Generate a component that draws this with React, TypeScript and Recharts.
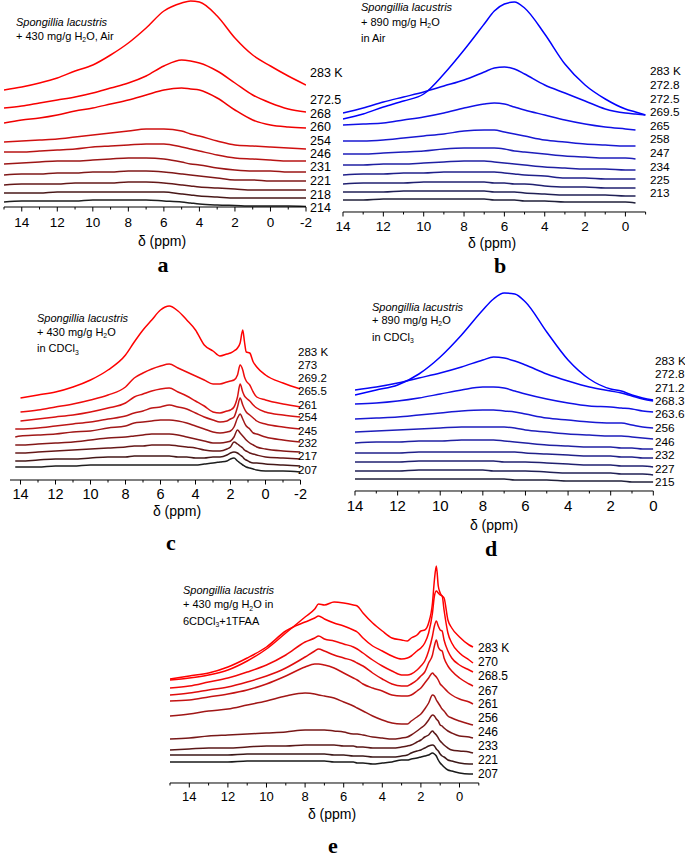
import { LineChart, Line, XAxis, YAxis } from "recharts";
import type { ReactNode } from "react";

// chemical shift grids (ppm) and spectra heights above each panel's baseline
const aPpm = [15, 14, 13, 12, 11, 10, 9, 8, 7, 6, 5, 4.5, 4, 3, 2, 1, 0, -1, -2];
const aTemps = ["283 K", "272.5", "268", "260", "254", "246", "231", "221", "218", "214"];
const aCurves = [
  [117, 120, 124, 129, 136, 142, 152, 164, 179, 196, 204, 206, 205, 191, 169, 152, 141, 131, 122],
  [99, 101, 104, 107, 110, 114, 119, 124, 131, 141, 147, 146, 144, 136, 124, 112, 104, 98, 95],
  [84, 87, 89, 92, 96, 99, 103, 107, 112, 117, 119, 118, 117, 109, 97, 87, 82, 80, 79],
  [65, 66, 67, 68, 70, 72, 74, 76, 78, 78, 76, 73, 71, 66, 62, 61, 60, 59, 58],
  [55, 55, 56, 57, 58, 60, 61, 62, 63, 63, 60, 58, 56, 52, 49, 48, 47, 46, 46],
  [43, 44, 45, 46, 46, 47, 48, 49, 49, 48, 45, 43, 42, 39, 37, 36, 36, 35, 35],
  [32, 33, 33, 34, 34, 35, 35, 36, 36, 35, 33, 32, 31, 29, 27, 27, 26, 26, 26],
  [22, 23, 23, 23, 24, 24, 24, 25, 25, 24, 22, 21, 20, 19, 18, 17, 17, 17, 17],
  [14, 14, 14, 15, 15, 15, 15, 15, 15, 15, 13, 12, 11, 10, 9, 9, 9, 9, 9],
  [5, 6, 6, 6, 6, 7, 7, 7, 7, 6, 5, 4, 3, 2, 1.5, 1, 1, 1, 0.5],
];

const bPpm = [14, 13, 12, 11, 10, 9, 8, 7, 6.5, 6, 5.5, 5, 4, 3, 2, 1, 0, -0.5, -1];
const bTemps = ["283 K", "272.8", "272.5", "269.5", "265", "258", "247", "234", "225", "213"];
const bCurves = [
  [93, 98, 105, 111, 118, 138, 162, 188, 201, 208, 210, 204, 178, 148, 127, 113, 103, 100, 97],
  [99, 104, 110, 115, 120, 126, 132, 140, 144, 145, 143, 138, 127, 119, 111, 103, 99, 98, 97],
  [87, 88, 89, 92, 95, 99, 104, 108, 109, 108, 105, 102, 97, 92, 88, 85, 83, 82, null],
  [71, 71, 72, 74, 76, 78, 81, 82, 82, 80, 78, 76, 72, 70, 68, 67, 66, 66, null],
  [58, 58, 59, 60, 61, 63, 64, 64, 64, 63, 61, 60, 58, 56, 55, 54, 54, 53, null],
  [47, 47, 48, 48, 49, 50, 51, 51, 50, 49, 48, 47, 45, 44, 43, 43, 42, 42, null],
  [37, 38, 38, 39, 39, 40, 40, 40, 40, 39, 38, 37, 36, 34, 34, 33, 33, 33, null],
  [28, 29, 29, 29, 30, 30, 30, 30, 29, 29, 28, 28, 26, 25, 25, 24, 24, 24, null],
  [20, 20, 20, 21, 21, 21, 21, 21, 20, 20, 20, 19, 18, 17, 17, 17, 16, 16, null],
  [12, 12, 13, 13, 13, 13, 13, 13, 12, 12, 12, 11, 11, 10, 10, 10, 10, 9, null],
];

const cPpm = [14.3, 14, 13, 12, 11, 10, 9, 8, 7.5, 7, 6.5, 6, 5.5, 5, 4.5, 4, 3.5, 3, 2.6, 2.2, 2, 1.8, 1.6, 1.45, 1.3, 1.2, 1.1, 0.9, 0.7, 0.5, 0, -1, -2];
const cTemps = ["283 K", "273", "269.2", "265.5", "261", "254", "245", "232", "217", "207"];
const cCurves = [
  [null, 82, 85, 88, 93, 100, 110, 125, 138, 150, 160, 170, 174, 169, 160, 150, 135, 129, 124, 126, 127, 129, 132, 137, 150, 138, 128, 127, 118, 113, 105, 97, 91],
  [null, 68, 70, 73, 76, 80, 85, 93, 102, 107, 111, 114, 116, 112, 108, 104, 100, 96, 96, 98, 99, 100, 105, 115, 110, 103, 99, 95, 88, 83, 80, 76, 73],
  [null, 59, 61, 63, 65, 68, 72, 77, 83, 86, 89, 91, 92, 88, 84, 79, 74, 68, 67, 69, 70, 73, 83, 96, 88, 84, 82, 79, 75, 72, 68, 65, 63],
  [51, 51, 52, 54, 56, 58, 61, 64, 67, 69, 72, 73, 75, 73, 71, 67, 63, 60, 58, 59, 61, 63, 73, 82, 75, 71, 68, 65, 62, 59, 56, 53, 51],
  [43, 44, 45, 46, 48, 49, 52, 54, 57, 58, 59, 60, 60, 59, 57, 54, 51, 48, 47, 48, 49, 53, 62, 66, 61, 57, 54, 51, 47, 46, 43, 40, 38],
  [35, 35, 36, 37, 38, 40, 42, 43, 44, 45, 46, 46, 46, 45, 43, 41, 39, 37, 37, 38, 39, 43, 50, 47, 44, 42, 40, 37, 35, 33, 31, 29, 28],
  [27, 27, 28, 29, 30, 31, 32, 33, 34, 34, 35, 35, 35, 34, 33, 32, 30, 29, 29, 31, 33, 38, 36, 34, 32, 30, 29, 27, 26, 25, 23, 22, 21],
  [19, 19, 20, 21, 21, 22, 23, 23, 24, 24, 24, 24, 24, 23, 23, 22, 22, 23, 23, 25, 27, 28, 27, 25, 23, 21, 20, 18, 17, 17, 16, 15, 14],
  [13, 13, 13, 14, 14, 15, 15, 15, 15, 15, 15, 15, 15, 15, 15, 15, 16, 17, 18, 19, 21, 22, 19, 17, 15, 14, 13, 12, 11, 10, 9, 9, 8],
];

const dPpm = [14, 13, 12, 11, 10, 9, 8, 7.5, 7, 6.5, 6, 5, 4, 3, 2, 1.5, 1, 0.5, 0];
const dTemps = ["283 K", "272.8", "271.2", "268.3", "263.6", "256", "246", "232", "227", "215"];
const dCurves = [
  [96, 101, 106, 117, 134, 156, 181, 192, 198, 197, 189, 159, 131, 112, 102, 100, 96, 93, 91],
  [101, 104, 108, 113, 118, 124, 131, 134, 133, 130, 126, 117, 110, 104, 100, 98, 95, 92, 90],
  [87, 88, 90, 93, 97, 101, 104, 104, 103, 100, 97, 92, 88, 85, 84, 83, 82, 80, 79],
  [72, 73, 74, 76, 78, 80, 81, 81, 80, 79, 77, 73, 71, 69, 68, 68, 66, 64, 63],
  [59, 60, 61, 62, 63, 64, 64, 64, 64, 63, 61, 59, 57, 56, 55, 55, 54, 53, 52],
  [48, 49, 49, 50, 50, 51, 51, 51, 50, 49, 48, 46, 45, 44, 44, 43, 43, 42, 42],
  [38, 38, 38, 39, 39, 39, 39, 39, 39, 39, 38, 37, 36, 35, 35, 34, 34, 33, 33],
  [29, 29, 29, 30, 30, 30, 30, 30, 29, 29, 29, 28, 27, 26, 26, 25, 25, 25, 24],
  [20, 20, 20, 21, 21, 21, 21, 20, 20, 20, 20, 19, 18, 18, 18, 17, 17, 17, 16],
  [12, 12, 12, 12, 12, 12, 12, 12, 12, 11, 11, 11, 10, 10, 10, 10, 9, 9, 9],
];

const ePpm = [15, 14, 13, 12, 11, 10, 9, 8, 7.5, 7.3, 7, 6.5, 6, 5.5, 5.3, 5, 4.5, 4, 3.5, 3, 2.7, 2.5, 2.2, 2, 1.8, 1.6, 1.4, 1.3, 1.2, 1.1, 1.0, 0.9, 0.8, 0.6, 0.4, 0, -0.5, -0.7];
const eTemps = ["283 K", "270", "268.5", "267", "261", "256", "246", "233", "221", "207"];
const eCurves = [
  [103, 105, 108, 113, 122, 134, 150, 166, 174, 179, 178, 181, 180, 178, 177, 170, 160, 152, 145, 143, 142, 145, 148, 152, 153, 160, 180, 203, 217, 197, 190, 187, 185, 163, 155, 146, 138, 136],
  [104, 107, 110, 116, 125, 136, 152, 161, 165, 167, 164, 160, 157, 153, 151, 145, 137, 132, 127, 124, 125, 127, 132, 135, 140, 150, 170, 187, 192, 190, 188, 187, 173, 150, 140, 130, 123, 120],
  [95, 97, 101, 105, 111, 118, 128, 141, 145, 147, 144, 142, 139, 136, 134, 130, 123, 117, 112, 108, 108, 109, 113, 117, 122, 132, 147, 157, 162, 157, 153, 152, 143, 132, 125, 118, 113, 111],
  [88, 90, 93, 96, 101, 107, 115, 126, 132, 134, 132, 128, 125, 122, 120, 117, 110, 104, 99, 97, 97, 99, 103, 107, 111, 120, 128, 137, 143, 136, 133, 132, 125, 117, 112, 105, 99, 97],
  [82, 83, 86, 89, 93, 99, 107, 116, 119, 119, 118, 115, 110, 105, 103, 99, 95, 92, 88, 87, 87, 88, 92, 95, 100, 105, 110, 108, 106, 103, 99, 97, 95, 91, 88, 84, 81, 79],
  [67, 69, 72, 74, 78, 82, 87, 90, 89, 88, 87, 85, 81, 77, 75, 72, 67, 63, 60, 59, 59, 62, 66, 69, 74, 80, 88, 87, 83, 80, 77, 74, 72, 67, 65, 62, 59, 58],
  [44, 45, 47, 48, 49, 50, 51, 53, 53, 53, 53, 52, 51, 49, 49, 48, 46, 45, 44, 45, 46, 48, 52, 55, 58, 63, 68, 67, 64, 62, 58, 57, 55, 52, 50, 47, 46, 45],
  [33, 34, 35, 35, 36, 37, 37, 38, 38, 38, 38, 38, 37, 37, 36, 36, 35, 35, 35, 36, 37, 38, 41, 43, 46, 48, 52, 50, 48, 45, 42, 40, 38, 35, 33, 32, 31, 30],
  [28, 28, 28, 28, 29, 29, 29, 29, 29, 29, 29, 28, 28, 27, 27, 27, 26, 26, 26, 27, 28, 30, 32, 33, 35, 37, 38, 37, 34, 32, 29, 27, 26, 23, 22, 20, 19, 19],
  [21, 21, 21, 21, 22, 22, 22, 22, 22, 22, 22, 21, 21, 21, 20, 20, 19, 20, 21, 23, 23, 24, 25, 26, 27, 28, 30, 29, 27, 23, 20, 18, 16, 13, 12, 10, 9, 9],
];

const redsA = ["#ff0000", "#f80000", "#f00000", "#d01010", "#b81414", "#9c1616", "#801818", "#641818", "#481818", "#1e1e1e"];
const redsC = ["#ff0000", "#ee0c0c", "#d81212", "#bc1616", "#a01818", "#841818", "#661818", "#441818", "#1e1e1e"];
const redsE = ["#ff0000", "#ff0000", "#f20808", "#e00c0c", "#c41212", "#a01616", "#781818", "#5a1818", "#3c1818", "#1a1a1a"];
const blues = ["#0000ff", "#0808f4", "#1010e6", "#1818d2", "#1e1eba", "#2020a2", "#20208a", "#202070", "#202056", "#20203a"];

const FONT = "'Liberation Sans', Arial, sans-serif";

function range(a: number, b: number) {
  const r: number[] = [];
  for (let i = a; i <= b; i++) r.push(i);
  return r;
}

function Sub({ children }: { children: ReactNode }) {
  return <span style={{ fontSize: "0.62em", position: "relative", top: "0.35em" }}>{children}</span>;
}

const species = <i>Spongillia lacustris</i>;

type Panel = {
  ppm: number[];
  curves: (number | null)[][];
  temps: string[];
  colors: string[];
  domain: [number, number];
  left: number;
  right: number;
  axisY: number;
  plotH: number;
  tickFont: number;
  tickDy: number;
  labelX: number;
  labelYs: number[];
  labelFont: number;
  axisLabelX: number;
  axisLabelY: number;
  letter: string;
  letterX: number;
  letterY: number;
  noteX: number;
  noteYs: number[];
  note: ReactNode[];
};

const panels: Panel[] = [
  {
    ppm: aPpm, curves: aCurves, temps: aTemps, colors: redsA, domain: [-2, 15],
    left: 4, right: 306, axisY: 207.3, plotH: 207, tickFont: 13.5, tickDy: 19.5,
    labelX: 310, labelYs: [73.3, 100, 114.3, 127.7, 141, 154.3, 167.7, 181.7, 195, 208.3], labelFont: 12.5,
    axisLabelX: 162, axisLabelY: 241, letter: "a", letterX: 163, letterY: 265,
    noteX: 16, noteYs: [21.7, 35.5],
    note: [species, <>+ 430 mg/g H<Sub>2</Sub>O, Air</>],
  },
  {
    ppm: bPpm, curves: bCurves, temps: bTemps, colors: blues, domain: [-1, 14],
    left: 342.6, right: 645.2, axisY: 211.7, plotH: 211, tickFont: 13.5, tickDy: 19,
    labelX: 650, labelYs: [71, 85, 99, 112.3, 126, 139.3, 153.3, 166.7, 180, 193.3], labelFont: 11.8,
    axisLabelX: 492, axisLabelY: 243, letter: "b", letterX: 500, letterY: 266,
    noteX: 361, noteYs: [7.3, 21.7, 37.7],
    note: [species, <>+ 890 mg/g H<Sub>2</Sub>O</>, "in Air"],
  },
  {
    ppm: cPpm, curves: cCurves, temps: cTemps, colors: redsC, domain: [-2, 14.6],
    left: 9.5, right: 300, axisY: 480, plotH: 180, tickFont: 14.5, tickDy: 18.5,
    labelX: 298, labelYs: [352.7, 366, 379, 392, 405.7, 418.3, 431.7, 444.3, 457.3, 470.7], labelFont: 11.5,
    axisLabelX: 177, axisLabelY: 511, letter: "c", letterX: 171, letterY: 543,
    noteX: 37, noteYs: [317.7, 331.7, 348.3],
    note: [species, <>+ 430 mg/g H<Sub>2</Sub>O</>, <>in CDCl<Sub>3</Sub></>],
  },
  {
    ppm: dPpm, curves: dCurves, temps: dTemps, colors: blues, domain: [0, 14],
    left: 355, right: 653.3, axisY: 490.7, plotH: 210, tickFont: 15, tickDy: 20.5,
    labelX: 655, labelYs: [361, 374.3, 387.7, 401, 414.3, 427.7, 441.7, 455, 469, 482.3], labelFont: 11.8,
    axisLabelX: 494, axisLabelY: 525, letter: "d", letterX: 491, letterY: 549,
    noteX: 372, noteYs: [306.7, 320, 336.7],
    note: [species, <>+ 890 mg/g H<Sub>2</Sub>O</>, <>in CDCl<Sub>3</Sub></>],
  },
  {
    ppm: ePpm, curves: eCurves, temps: eTemps, colors: redsE, domain: [-1, 15],
    left: 169.8, right: 478.6, axisY: 783.3, plotH: 230, tickFont: 13, tickDy: 18,
    labelX: 478, labelYs: [647.7, 662.3, 676, 690.7, 704, 718.3, 731.7, 746, 760, 774], labelFont: 12,
    axisLabelX: 332, axisLabelY: 814, letter: "e", letterX: 333, letterY: 846,
    noteX: 183, noteYs: [590, 604.3, 621],
    note: [species, <>+ 430 mg/g H<Sub>2</Sub>O in</>, <>6CDCl<Sub>3</Sub>+1TFAA</>],
  },
];

function Tick(props: any) {
  const { x, y, payload, fs, lblDy } = props;
  const v = payload.value;
  const major = Math.abs(v) % 2 === 0;
  return (
    <g>
      <line x1={x} x2={x} y1={y} y2={y + (major ? 4.5 : 2.5)} stroke="#000" strokeWidth={1} />
      {major && (
        <text x={x} y={y + lblDy} textAnchor="middle" fontSize={fs} fill="#000" fontFamily={FONT}>
          {v}
        </text>
      )}
    </g>
  );
}

function SpectraPanel({ p }: { p: Panel }) {
  const data = p.ppm.map((v, i) => {
    const row: Record<string, number | null> = { ppm: v };
    p.curves.forEach((c, k) => {
      row[`s${k}`] = c[i];
    });
    return row;
  });
  const w = p.right - p.left;
  const pad = 20;
  const lh = p.labelFont * 1.2;
  return (
    <>
      <div style={{ position: "absolute", left: p.left - pad, top: p.axisY - p.plotH - 5 }}>
        <LineChart
          width={w + pad * 2}
          height={p.plotH + 5 + 40}
          data={data}
          margin={{ top: 5, right: pad, left: pad, bottom: 0 }}
        >
          <XAxis
            dataKey="ppm"
            type="number"
            domain={p.domain}
            reversed
            allowDataOverflow
            ticks={range(Math.ceil(p.domain[0]), Math.floor(p.domain[1]))}
            interval={0}
            tickLine={false}
            tickSize={0}
            tickMargin={0}
            height={40}
            axisLine={{ stroke: "#000", strokeWidth: 1 }}
            tick={(tp: any) => <Tick {...tp} fs={p.tickFont} lblDy={p.tickDy} />}
          />
          <YAxis hide type="number" domain={[0, p.plotH]} allowDataOverflow />
          {p.curves.map((_, k) => (
            <Line
              key={k}
              dataKey={`s${k}`}
              type="monotone"
              stroke={p.colors[k]}
              strokeWidth={1.5}
              dot={false}
              activeDot={false}
              connectNulls={false}
              isAnimationActive={false}
            />
          ))}
        </LineChart>
      </div>
      {p.temps.map((t, i) => (
        <div
          key={t + i}
          style={{
            position: "absolute",
            left: p.labelX,
            top: p.labelYs[i] - lh / 2,
            fontSize: p.labelFont,
            lineHeight: `${lh}px`,
            whiteSpace: "nowrap",
          }}
        >
          {t}
        </div>
      ))}
      {p.note.map((n, i) => (
        <div
          key={i}
          style={{
            position: "absolute",
            left: p.noteX,
            top: p.noteYs[i] - 7,
            fontSize: 11,
            lineHeight: "14px",
            whiteSpace: "nowrap",
          }}
        >
          {n}
        </div>
      ))}
      <div
        style={{
          position: "absolute",
          left: p.axisLabelX - 40,
          width: 80,
          top: p.axisLabelY - 8,
          lineHeight: "16px",
          fontSize: 14,
          textAlign: "center",
        }}
      >
        δ (ppm)
      </div>
      <div
        style={{
          position: "absolute",
          left: p.letterX - 20,
          width: 40,
          top: p.letterY - 14,
          lineHeight: "28px",
          textAlign: "center",
          fontFamily: "'Liberation Serif', 'Times New Roman', serif",
          fontWeight: "bold",
          fontSize: 22,
        }}
      >
        {p.letter}
      </div>
    </>
  );
}

export default function App() {
  return (
    <>
      <style>{"body{margin:0;background:#fff}"}</style>
      <div
        style={{
          position: "relative",
          width: 685,
          height: 860,
          background: "#fff",
          fontFamily: FONT,
          color: "#000",
          overflow: "hidden",
        }}
      >
        {panels.map((p) => (
          <SpectraPanel key={p.letter} p={p} />
        ))}
      </div>
    </>
  );
}
